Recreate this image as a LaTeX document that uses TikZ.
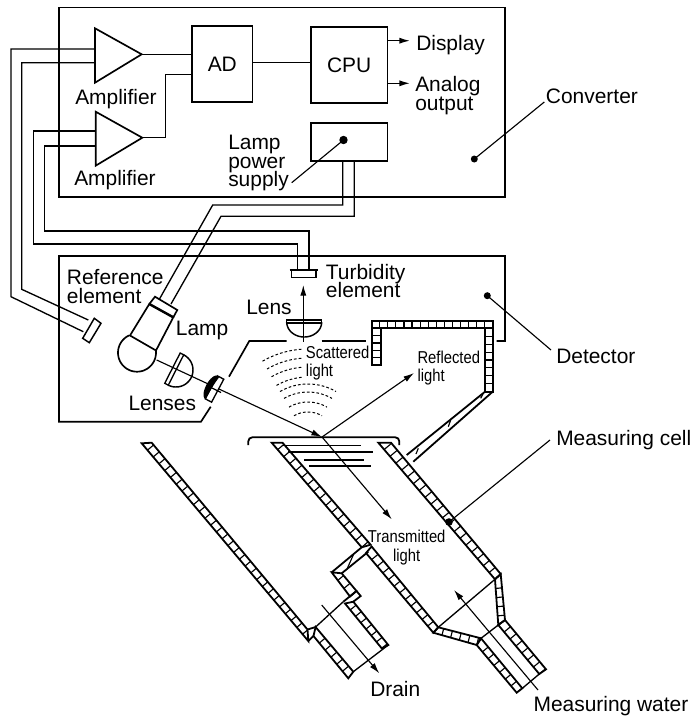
\documentclass[tikz,border=0pt]{standalone}
\usepackage{fontspec}
\setmainfont{Liberation Sans}
\newfontfamily\narrowf[FakeStretch=0.86]{Liberation Sans}
\usetikzlibrary{calc,arrows.meta}
\AtBeginDocument{\lineskiplimit=-10pt\relax}
\tikzset{
  boxline/.style={line width=1.25pt,line join=miter},
  box/.style={draw,line width=1.25pt,inner sep=0pt,outer sep=0pt},
  wire/.style={line width=1pt},
  leader/.style={line width=0.85pt},
  beam/.style={line width=0.85pt},
  ray/.style={line width=0.85pt,-{Latex[length=8pt,width=4.6pt]}},
  lab/.style={inner sep=0pt,anchor=base west,align=left,font=\fontsize{15.7}{13.9}\selectfont},
  smalllab/.style={inner sep=0pt,anchor=base west,align=left,font=\narrowf\fontsize{12.9}{13.8}\selectfont},
  hatch/.style={line width=0.85pt},
  wallline/.style={line width=1.35pt,line join=miter},
  scat/.style={line width=0.75pt,dash pattern=on 2pt off 1.6pt},
}
% wall: corners a,b on one long edge, c,d on the other, n cells
\newcommand{\wallseg}[5]{%
  \coordinate (wa) at #1; \coordinate (wb) at #2; \coordinate (wc) at #3; \coordinate (wd) at #4;
  \begin{scope}
    \clip (wa) -- (wb) -- (wc) -- (wd) -- cycle;
    \foreach \i in {1,...,#5}{
      \coordinate (wp) at ($(wa)!\i/#5!(wb)$);
      \draw[hatch] (wp) -- ($(wd)!(wp)!(wc)$);
    }
  \end{scope}
  \draw[wallline] (wa) -- (wb) -- (wc) -- (wd) -- cycle;
}
\begin{document}
\begin{tikzpicture}[x=0.75pt,y=-0.75pt]
\useasboundingbox (0,0) rectangle (694,722);

% ---------- Converter ----------
\draw[boxline] (59,7.5) rectangle (505,196.7);
\node[box,minimum width=45.5pt,minimum height=56.8pt,font=\fontsize{15.7}{18}\selectfont] (AD) at (222.3,63.8) {AD};
\node[box,minimum width=57.2pt,minimum height=57pt,font=\fontsize{15.7}{18}\selectfont] (CPU) at (349.2,65) {CPU};
\node[box,minimum width=57.2pt,minimum height=28.5pt] (LPS) at (349.2,142.3) {};

\coordinate (a1t) at (95,28.3); \coordinate (a1b) at (95,82.7); \coordinate (a1o) at (141.7,54.3);
\coordinate (a2t) at (95.7,111.7); \coordinate (a2b) at (95.7,165.7); \coordinate (a2o) at (142.3,137.7);
\draw[boxline] (a1t) -- (a1o) -- (a1b) -- cycle;
\draw[boxline] (a2t) -- (a2o) -- (a2b) -- cycle;

\draw[wire] (a1o) -- (AD.west |- a1o);
\draw[wire] (a2o) -- (165.7,137.7) -- (165.7,74.7) -- (AD.west |- 0,74.7);
\draw[wire] (AD.east |- 0,62.7) -- (CPU.west |- 0,62.7);
\draw[wire,-{Latex[length=8pt,width=4.6pt]}] (CPU.east |- 0,40.7) -- (410,40.7);
\draw[wire,-{Latex[length=8pt,width=4.6pt]}] (CPU.east |- 0,83.3) -- (410,83.3);

\node[lab] (tamp1) at (75,104) {Amplifier};
\node[lab] (tamp2) at (74,185.7) {Amplifier};
\node[lab] (tdisp) at (416,50) {Display};
\node[lab] (tana) at (415,110) {Analog\\output};
\node[lab] (tlps) at (228,186.7) {Lamp\\power\\supply};
\node[lab] (tconv) at (545.7,103) {Converter};

\coordinate (lpsdot) at (343.5,140);
\coordinate (lpsend) at (291.7,182.7);
\fill (lpsdot) circle (4.2);
\draw[leader] (lpsdot) -- (lpsend);
\coordinate (convdot) at (474.3,159);
\coordinate (convend) at (544.3,102);
\fill (convdot) circle (3.5);
\draw[leader] (convdot) -- (convend);

% ---------- Detector outline ----------
\draw[boxline] (210.7,406.7) -- (201,421.7) -- (59,421.7) -- (59,256) -- (505,256) -- (505,341) -- (496.7,341);
\draw[boxline] (229,376.7) -- (249.3,341) -- (286.7,341);
\draw[boxline] (321.7,341) -- (366,341);

% ---------- Wires to elements ----------
\coordinate (refA) at (83.3,331.7);
\coordinate (refB) at (88.3,320);
\coordinate (turbL) at (297.3,270);
\coordinate (turbR) at (309,270);
\coordinate (capA) at (159.3,299.3);
\coordinate (capB) at (171,304);
\draw[wire] (95,49) -- (11,49) -- (11,296.7) -- (refA);
\draw[wire] (95,62.7) -- (21.7,62.7) -- (21.7,289.3) -- (refB);
\draw[wire] (95.7,131) -- (33.3,131) -- (33.3,244) -- (297.3,244) -- (turbL);
\draw[wire] (95.7,146) -- (44.7,146) -- (44.7,231) -- (309,231) -- (turbR);
\draw[wire] (342.7,161.3) -- (342.7,205) -- (212.7,205) -- (capA);
\draw[wire] (354.3,161.3) -- (354.3,216.3) -- (221,216.3) -- (capB);

% reference element
\draw[boxline,line width=1.1pt] (94.3,318.3) -- (101,323.3) -- (89.3,342.7) -- (82.7,338.3) -- cycle;

% turbidity element
\draw[boxline,line width=1.1pt] (291.7,270) rectangle (316,277.7);
\draw[boxline] (289.7,270) -- (318,270);

% lamp
\draw[boxline] (130,335.5) -- (149.3,304) -- (173.3,317.3) -- (156,350.5) -- cycle;
\draw[boxline] plot[smooth,domain=-114.7:-368,samples=50] ({137+19*cos(\x)},{352.7+19*sin(\x)});
\draw[boxline] (149.3,304) -- (155,296.7) -- (177.3,310) -- (173.3,317.3);
\draw[line width=1.8pt] (149.3,304) -- (173.3,317.3);

% beam
\coordinate (lampout) at (156.7,360);
\coordinate (surf) at (322,437);
\draw[ray] (lampout) -- (surf);
\coordinate (transtip) at (391.7,519.3);
\coordinate (refltip) at (414,373);
\draw[ray] (surf) -- (transtip);
\draw[ray] (surf) -- (refltip);

% first lens
\begin{scope}[shift={(176,370)},rotate=-27]
  \draw[wire] (-4,-17) rectangle (0,17);
  \draw[boxline,line width=1.1pt] plot[smooth,domain=-90:90,samples=30] ({17*cos(\x)},{17*sin(\x)});
\end{scope}
% second lens
\begin{scope}[shift={(214.5,389)},rotate=-28]
  \fill[white] (-3.6,-13) rectangle (3.6,13);
  \draw[wire] (-3.6,-13) rectangle (3.6,13);
  \fill plot[smooth,domain=-90:90,samples=20] ({-3.6-5.5*cos(\x)},{13*sin(\x)}) -- cycle;
  \fill (-3.6,-13) -- (-1.4,-13) .. controls (-3,-2) and (-3,2) .. (-3,13) -- (-3.6,13) -- cycle;
\end{scope}
\draw[beam] (209,386.5) -- (221,392.5);

% upper lens + arrow
\draw[ray] (303.3,341.7) -- (303.3,285);
\draw[wire] (286.7,320) rectangle (321.7,323);
\draw[boxline,line width=1.1pt] plot[smooth,domain=0:180,samples=30] ({304.2+17.5*cos(\x)},{322+15*sin(\x)});

% scattered light
\foreach \r/\ang in {91/94,82/94,73/94,63/94}{
  \draw[scat] plot[smooth,domain=120:\ang,samples=14] ({308+\r*cos(\x)},{440-\r*sin(\x)});
}
\foreach \r in {56,48,38,28}{
  \draw[scat] plot[smooth,domain=120:60,samples=14] ({308+\r*cos(\x)},{440-\r*sin(\x)});
}

% ---------- Hatched enclosure ----------
\wallseg{(371.7,320.7)}{(492.7,320.7)}{(492.7,328.3)}{(371.7,328.3)}{15}
\wallseg{(371.7,328.3)}{(371.7,365)}{(380.7,365)}{(380.7,328.3)}{5}
\wallseg{(492.7,328.3)}{(492.7,391.7)}{(485,391.7)}{(485,328.3)}{8}
\draw[wallline] (485,391.7) -- (406.7,455);
\draw[wallline] (492.7,391.7) -- (413.3,461.7);
\draw[hatch] (480.7,398.3) -- (483.3,393.3) (448.3,426.7) -- (450.7,420) (416,454) -- (418.3,448.3);

% ---------- Measuring cell ----------
\draw[wallline,rounded corners=3pt] (248.3,445) -- (248.3,437.3) -- (399.3,437.3) -- (399.3,445);
\draw[wire] (283,445.7) -- (360.7,445.7) (288,452) -- (373,452) (304,460) -- (364,460) (309,466) -- (371,466);

\wallseg{(271.7,442.7)}{(361.7,547.3)}{(370.6,544.7)}{(282.5,442.7)}{15}
\wallseg{(366,553)}{(433.3,632.7)}{(438.3,627.3)}{(371.6,546.5)}{12}
\wallseg{(378.3,442.7)}{(495,579.3)}{(500.7,574)}{(391,442.7)}{20}
\wallseg{(433.3,632.7)}{(476.7,645)}{(481,638.3)}{(438.3,627.3)}{5}
\wallseg{(495,579.3)}{(498.3,625)}{(505,620)}{(500.7,574)}{5}
\wallseg{(476.7,645)}{(516.7,692.7)}{(522.3,688.3)}{(481,638.3)}{7}
\wallseg{(498.3,625)}{(539.3,674)}{(546,669.3)}{(505,620)}{7}
\draw[wire] (438.3,627.3) -- (495,579.3);
\draw[wire] (481,638.3) -- (498.3,625);
\draw[wire] (522.3,688.3) -- (539.3,674);

\coordinate (mwstart) at (538,690);
\coordinate (mwtip) at (454,590);
\draw[ray] (mwstart) -- (mwtip);

\coordinate (celldot) at (449,522);
\coordinate (cellend) at (550,440);
\fill (celldot) circle (3.8);
\draw[leader] (celldot) -- (cellend);

% ---------- Drain ----------
\wallseg{(141.7,443.3)}{(308.3,641)}{(307.5,629.5)}{(151.7,442.7)}{29}
\draw[wallline] (308.3,641) -- (313.5,636);
\draw[wallline] (307.5,629.5) -- (315.6,627);
\wallseg{(313.5,636)}{(348.3,678.3)}{(353.3,671.7)}{(315.6,627)}{6}
\wallseg{(331.7,572.3)}{(350,596.5)}{(356.5,591)}{(341.7,573.3)}{3}
\draw[wallline] (343.3,601.7) -- (356.5,591) -- (360.7,596) -- (353.3,601.7);
\wallseg{(345,603.5)}{(381.7,648.3)}{(388.3,645)}{(353.3,601.7)}{7}
\draw[wallline] (331.7,572.3) -- (361.7,547.3);
\draw[wallline] (341.7,573.3) -- (368.3,551.7);
\draw[hatch] (347.3,568.3) -- (353.3,555);
\draw[wire] (343.3,601.7) -- (315.6,627);
\draw[wire] (353.3,671.7) -- (388.3,645);
\coordinate (drstart) at (321.7,605);
\coordinate (drtip) at (379.3,673.3);
\draw[ray] (drstart) -- (drtip);

% detector leader
\coordinate (detdot) at (487.3,295.7);
\coordinate (detend) at (551,350);
\fill (detdot) circle (3.5);
\draw[leader] (detdot) -- (detend);

% ---------- Labels ----------
\node[lab] (tref) at (66.7,303.3) {Reference\\element};
\node[lab] (tlamp) at (175.7,335) {Lamp};
\node[lab] (tlenses) at (128.3,410.7) {Lenses};
\node[lab] (tlens) at (246,314.7) {Lens};
\node[lab] (tturb) at (325.7,297.7) {Turbidity\\element};
\node[lab] (tdet) at (556,363.3) {Detector};
\node[lab] (tcell) at (556,445) {Measuring cell};
\node[lab] (tdrain) at (370,696.7) {Drain};
\node[lab] (twater) at (533.3,711) {Measuring water};
\node[smalllab] (tscat) at (305.7,376.7) {Scattered\\light};
\node[smalllab] (trefl) at (417.3,381.7) {Reflected\\light};
\node[smalllab,anchor=base,align=center] (ttrans) at (406.7,561) {Transmitted\\light};
\end{tikzpicture}
\end{document}
